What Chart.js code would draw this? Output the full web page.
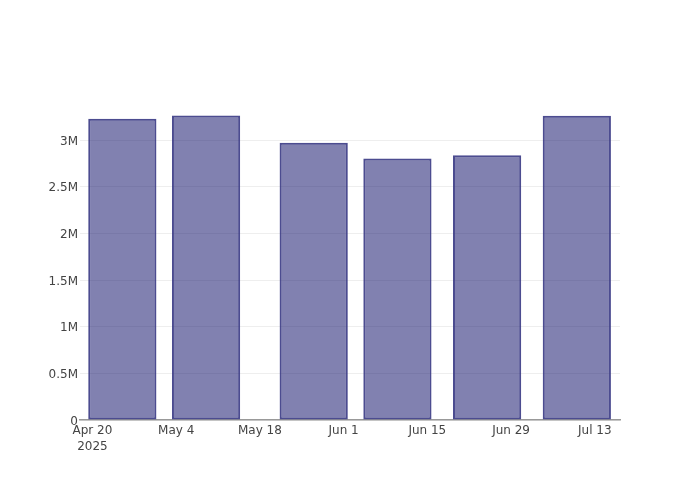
<!DOCTYPE html>
<html>
<head>
<meta charset="utf-8">
<script src="https://cdn.jsdelivr.net/npm/chart.js@4.4.1/dist/chart.umd.min.js"></script>
<style>
  html, body { margin: 0; padding: 0; background: #fff; }
  #wrap { width: 700px; height: 500px; position: relative; }
</style>
</head>
<body>
<div id="wrap"><canvas id="c" width="700" height="500"></canvas></div>
<script>
// ---- data ----
const barDates = ['2025-04-25', '2025-05-09', '2025-05-27', '2025-06-10', '2025-06-25', '2025-07-10'];
const barValues = [3228000, 3264000, 2971000, 2804000, 2839000, 3260000];
const xTickDates = ['2025-04-20', '2025-05-04', '2025-05-18', '2025-06-01', '2025-06-15', '2025-06-29', '2025-07-13'];
const xTickLabels = [['Apr 20', '2025'], 'May 4', 'May 18', 'Jun 1', 'Jun 15', 'Jun 29', 'Jul 13'];
const yTickValues = [0, 500000, 1000000, 1500000, 2000000, 2500000, 3000000];
const yTickLabels = ['0', '0.5M', '1M', '1.5M', '2M', '2.5M', '3M'];

// ---- helpers ----
const DAY = 86400000;
const origin = Date.parse(xTickDates[0] + 'T00:00:00Z');
const toDay = d => (Date.parse(d + 'T00:00:00Z') - origin) / DAY;
const barX = barDates.map(toDay);
const tickX = xTickDates.map(toDay);

const points = barX.map((x, i) => ({ x: x, y: barValues[i] }));

Chart.defaults.font.family = '"DejaVu Sans", verdana, arial, sans-serif';
Chart.defaults.font.size = 12;
Chart.defaults.color = '#444';

new Chart(document.getElementById('c'), {
  type: 'bar',
  data: {
    datasets: [{
      data: points,
      backgroundColor: 'rgba(25,25,112,0.55)',
      borderColor: 'rgba(45,45,125,0.85)',
      borderWidth: 2,
      borderSkipped: false,
      barPercentage: 0.815,
      categoryPercentage: 1
    }]
  },
  options: {
    responsive: false,
    animation: false,
    devicePixelRatio: 1,
    layout: { padding: { left: 0, top: 100, right: 80, bottom: 0 } },
    plugins: { legend: { display: false }, tooltip: { enabled: false } },
    scales: {
      x: {
        type: 'linear',
        min: -2.08,
        max: 88.22,
        offset: false,
        grid: { display: false, drawTicks: false },
        border: { display: true, color: '#999', width: 1.5 },
        ticks: {
          padding: 3,
          maxRotation: 0,
          autoSkip: false,
          font: { lineHeight: 1.3 },
          callback: (v) => { const i = tickX.indexOf(v); return i >= 0 ? xTickLabels[i] : ''; }
        },
        afterBuildTicks: (s) => { s.ticks = tickX.map(v => ({ value: v })); },
        afterFit: (s) => { s.height = 80; }
      },
      y: {
        min: 0,
        max: 3430000,
        grid: { color: '#eee', lineWidth: 1, drawTicks: false },
        border: { display: false },
        ticks: {
          padding: 2,
          labelOffset: 1.5,
          callback: (v) => { const i = yTickValues.indexOf(v); return i >= 0 ? yTickLabels[i] : ''; }
        },
        afterBuildTicks: (s) => { s.ticks = yTickValues.map(v => ({ value: v })); },
        afterFit: (s) => { s.width = 80; }
      }
    }
  }
});
</script>
</body>
</html>
